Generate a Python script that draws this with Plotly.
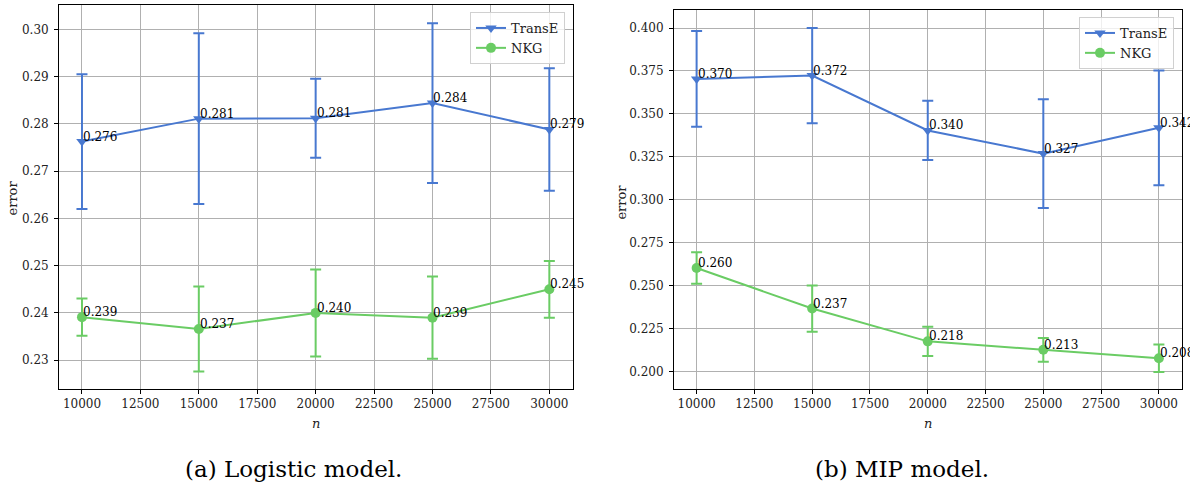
import plotly.graph_objects as go

# ---------------- data ----------------
n_values = [10000, 15000, 20000, 25000, 30000]

# (a) Logistic model
log_transe = [0.27625, 0.2811, 0.2812, 0.2844, 0.2788]
log_transe_err = [0.01425, 0.01805, 0.00835, 0.0169, 0.01295]
log_nkg = [0.2391, 0.2366, 0.2400, 0.2390, 0.2450]
log_nkg_err = [0.00395, 0.0090, 0.0092, 0.0087, 0.0060]

# (b) MIP model
mip_transe = [0.3704, 0.3723, 0.3404, 0.3269, 0.3419]
mip_transe_err = [0.0279, 0.0277, 0.01725, 0.0317, 0.0334]
mip_nkg = [0.2603, 0.2367, 0.2176, 0.2127, 0.2078]
mip_nkg_err = [0.00915, 0.01345, 0.00855, 0.0069, 0.00805]

series_names = ["TransE", "NKG"]
captions = ["(a) Logistic model.", "(b) MIP model."]
y_label = "error"
x_label = "<i>n</i>"
x_ticks = [10000, 12500, 15000, 17500, 20000, 22500, 25000, 27500, 30000]

# ---------------- style ----------------
W, H = 1190, 485
FONT = "DejaVu Serif"
BLUE = "#4878d0"
GREEN = "#6acc64"
GRID = "#b0b0b0"

fig = go.Figure()

panels = [
    dict(xa="x", ya="y", xname="xaxis", yname="yaxis", legend="legend",
         transe=log_transe, transe_err=log_transe_err,
         nkg=log_nkg, nkg_err=log_nkg_err,
         xdom=[58.6 / W, 572.7 / W], ydom=[1 - 389 / H, 1 - 5 / H],
         yrange=[0.2239, 0.30514], dtick=0.01, fmt=".2f",
         ylab_x=11.5, ylab_y=198, cap_x=293.5, legend_right=565, legend_top=12),
    dict(xa="x2", ya="y2", xname="xaxis2", yname="yaxis2", legend="legend2",
         transe=mip_transe, transe_err=mip_transe_err,
         nkg=mip_nkg, nkg_err=mip_nkg_err,
         xdom=[673.5 / W, 1182 / W], ydom=[1 - 389.3 / H, 1 - 10 / H],
         yrange=[0.1897, 0.4105], dtick=0.025, fmt=".3f",
         ylab_x=620.6, ylab_y=202, cap_x=901.7, legend_right=1174, legend_top=17),
]

annotations = []
layout_axes = {}
legends = {}

for p in panels:
    for name, vals, errs, color, symbol, msize in [
        (series_names[0], p["transe"], p["transe_err"], BLUE, "triangle-down", 10),
        (series_names[1], p["nkg"], p["nkg_err"], GREEN, "circle", 10),
    ]:
        fig.add_trace(go.Scatter(
            x=n_values, y=vals, name=name, mode="lines+markers",
            xaxis=p["xa"], yaxis=p["ya"], legend=p["legend"],
            line=dict(color=color, width=2),
            marker=dict(color=color, symbol=symbol, size=msize, line=dict(width=0)),
            error_y=dict(type="data", array=errs, visible=True, color=color,
                         thickness=2, width=5.5),
        ))
        for xv, yv in zip(n_values, vals):
            annotations.append(dict(
                x=xv, y=yv, xref=p["xa"], yref=p["ya"], text=f"{yv:.3f}",
                showarrow=False, xanchor="left", yanchor="bottom",
                xshift=0, yshift=-3, borderpad=0,
                font=dict(family=FONT, size=12, color="black"),
            ))

    layout_axes[p["xname"]] = dict(
        domain=p["xdom"], range=[9000, 31000], anchor=p["ya"],
        tickvals=x_ticks, ticktext=[str(v) for v in x_ticks],
        showgrid=True, gridcolor=GRID, gridwidth=1,
        showline=True, linecolor="black", linewidth=1, mirror=True,
        ticks="outside", ticklen=3.5, tickcolor="black", tickwidth=1,
        tickfont=dict(family=FONT, size=12, color="#222"),
        zeroline=False, fixedrange=True,
    )
    layout_axes[p["yname"]] = dict(
        domain=p["ydom"], range=p["yrange"], anchor=p["xa"],
        dtick=p["dtick"], tick0=0, tickformat=p["fmt"],
        showgrid=True, gridcolor=GRID, gridwidth=1,
        showline=True, linecolor="black", linewidth=1, mirror=True,
        ticks="outside", ticklen=3.5, tickcolor="black", tickwidth=1,
        ticklabelstandoff=3,
        tickfont=dict(family=FONT, size=12, color="#222"),
        zeroline=False, fixedrange=True,
    )
    legends[p["legend"]] = dict(
        x=p["legend_right"] / W, xanchor="right",
        y=1 - p["legend_top"] / H, yanchor="top",
        bgcolor="rgba(255,255,255,0.8)", bordercolor="#d0d0d0", borderwidth=1,
        font=dict(family=FONT, size=13, color="#222"),
        itemwidth=30, tracegroupgap=0,
    )
    # axis titles
    annotations.append(dict(
        x=p["ylab_x"] / W, y=1 - p["ylab_y"] / H, xref="paper", yref="paper",
        text=y_label, textangle=-90, showarrow=False,
        xanchor="center", yanchor="middle",
        font=dict(family=FONT, size=13, color="#222"),
    ))
    annotations.append(dict(
        x=(p["xdom"][0] + p["xdom"][1]) / 2, y=1 - 423 / H, xref="paper", yref="paper",
        text=x_label, showarrow=False, xanchor="center", yanchor="middle",
        font=dict(family=FONT, size=13, color="#222"),
    ))
    annotations.append(dict(
        x=p["cap_x"] / W, y=1 - 469 / H, xref="paper", yref="paper",
        text=captions[panels.index(p)], showarrow=False,
        xanchor="center", yanchor="middle",
        font=dict(family=FONT, size=23, color="black"),
    ))

fig.update_layout(
    width=W, height=H,
    margin=dict(l=0, r=0, t=0, b=0),
    paper_bgcolor="white", plot_bgcolor="white",
    showlegend=True,
    annotations=annotations,
    **layout_axes,
    **legends,
)

fig.write_html(
    "out.html",
    config={"displayModeBar": False, "staticPlot": True},
    post_script="document.body.style.margin='0';document.body.style.overflow='hidden';",
)
